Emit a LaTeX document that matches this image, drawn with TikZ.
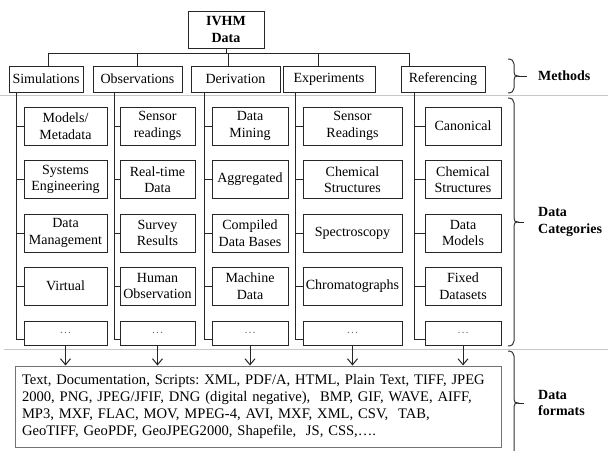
\documentclass[tikz,border=0pt]{standalone}
\usepackage{fontspec}
\setmainfont{Liberation Serif}
\usetikzlibrary{arrows.meta,calc}
\begin{document}
\frenchspacing
\begin{tikzpicture}[x=1pt,y=-1pt,
  every node/.style={font=\fontsize{14}{16.5}\selectfont},
  box/.style={draw=black!85, line width=1pt, align=center, inner sep=0pt, minimum height=38pt},
  mbox/.style={box, minimum height=26pt},
  dbox/.style={box, minimum height=24pt},
  ln/.style={draw=black!85, line width=1pt},
  bline/.style={draw=black!80, line width=1pt},
  sepline/.style={draw=black!22, line width=1pt},
  lab/.style={font=\fontsize{14}{16.5}\selectfont\bfseries, align=left, anchor=west, inner sep=0pt},
  arr/.style={ln, -{Straight Barb[length=6pt,width=10pt,line width=1pt]}}]
\useasboundingbox (0,0) rectangle (608,450);
\newcommand{\dotsgray}{\textcolor{black!55}{\fontsize{12}{14}\selectfont …}}
\newcommand{\bracedraw}[3]{%
  \draw[bline] (508,#1) .. controls (512,#1) and (514,#1+2) .. (514,#1+5)
    -- (514,#2-4) .. controls (514,#2-1) and (515,#2) .. (518,#2)
    .. controls (515,#2) and (514,#2+1) .. (514,#2+4)
    -- (514,#3-5) .. controls (514,#3-2) and (512,#3) .. (508,#3);}

% top
\node[box, font=\fontsize{14}{17}\selectfont\bfseries, minimum width=76pt, minimum height=37pt] (ivhm) at (226,29.5) {IVHM\\Data};

% methods
\node[mbox, minimum width=74pt] (sim) at (46,79) {Simulations};
\node[mbox, minimum width=89pt] (obs) at (137.5,79) {Observations};
\node[mbox, minimum width=89pt] (der) at (235.5,79) {Derivation};
\node[mbox, minimum width=92pt] (exp) at (329,79) {Experiments};
\node[mbox, minimum width=84pt] (ref) at (443,79) {Referencing};

% bus
\coordinate (busL) at (48,53);
\coordinate (busR) at (409,53);
\coordinate (tObs) at (137,53);
\coordinate (tDer) at (228,53);
\coordinate (tExp) at (318,53);
\draw[ln] (busL |- sim.north) -- (busL) -- (busR) -- (busR |- ref.north);
\draw[ln] (tObs) -- (tObs |- obs.north);
\draw[ln] (tDer) -- (tDer |- der.north);
\draw[ln] (tExp) -- (tExp |- exp.north);
\draw[ln] (ivhm.south) -- (ivhm.south |- busL);

% separators
\coordinate (g1l) at (0,95);   \coordinate (g1r) at (608,95);
\coordinate (g2l) at (4,349);  \coordinate (g2r) at (608,349);
\draw[sepline] (g1l) -- (g1r);
\draw[sepline] (g2l) -- (g2r);

% column 1
\node[box, minimum width=83pt] (c11) at (65.5,126) {Models/\\Metadata};
\node[box, minimum width=83pt] (c12) at (65.5,179.5) {Systems\\Engineering};
\node[box, minimum width=83pt] (c13) at (65.5,233) {Data\\Management};
\node[box, minimum width=83pt] (c14) at (65.5,286) {Virtual};
\node[dbox, minimum width=83pt] (c15) at (65.5,333) {\dotsgray};
% column 2
\node[box, minimum width=75pt] (c21) at (157.5,126) {Sensor\\readings};
\node[box, minimum width=75pt] (c22) at (157.5,179.5) {Real-time\\Data};
\node[box, minimum width=75pt] (c23) at (157.5,233) {Survey\\Results};
\node[box, minimum width=75pt] (c24) at (157.5,286) {Human\\Observation};
\node[dbox, minimum width=75pt] (c25) at (157.5,333) {\dotsgray};
% column 3
\node[box, minimum width=76pt] (c31) at (250,126) {Data\\Mining};
\node[box, minimum width=76pt] (c32) at (250,179.5) {Aggregated};
\node[box, minimum width=76pt] (c33) at (250,233) {Compiled\\Data Bases};
\node[box, minimum width=76pt] (c34) at (250,286) {Machine\\Data};
\node[dbox, minimum width=76pt] (c35) at (250,333) {\dotsgray};
% column 4
\node[box, minimum width=99pt] (c41) at (352.5,126) {Sensor\\Readings};
\node[box, minimum width=99pt] (c42) at (352.5,179.5) {Chemical\\Structures};
\node[box, minimum width=99pt] (c43) at (352.5,233) {Spectroscopy};
\node[box, minimum width=99pt] (c44) at (352.5,286) {Chromatographs};
\node[dbox, minimum width=99pt] (c45) at (352.5,333) {\dotsgray};
% column 5
\node[box, minimum width=76pt] (c51) at (463,126) {Canonical};
\node[box, minimum width=76pt] (c52) at (463,179.5) {Chemical\\Structures};
\node[box, minimum width=76pt] (c53) at (463,233) {Data\\Models};
\node[box, minimum width=76pt] (c54) at (463,286) {Fixed\\Datasets};
\node[dbox, minimum width=76pt] (c55) at (463,333) {\dotsgray};

% spines
\coordinate (sp1) at (16,92);
\coordinate (sp2) at (114,92);
\coordinate (sp3) at (204,92);
\coordinate (sp4) at (295,92);
\coordinate (sp5) at (414,92);
\foreach \c in {1,...,5}{
  \draw[ln] (sp\c) |- ([yshift=-6pt]c\c5.west);
  \foreach \r in {1,...,4}{
    \draw[ln] (c\c\r.west -| sp\c) -- (c\c\r.west);
  }
}

% formats box
\node[draw=black!55, line width=1pt, minimum width=486pt, minimum height=81pt,
      text width=472pt, inner xsep=7pt, inner ysep=0pt, align=left,
      font=\fontsize{14.6}{17}\selectfont] (fmt) at (258,406.5)
{Text, Documentation, Scripts: XML, PDF/A, HTML, Plain Text, TIFF, JPEG\\
2000, PNG, JPEG/JFIF, DNG (digital negative),\ \ BMP, GIF, WAVE, AIFF,\\
MP3, MXF, FLAC, MOV, MPEG-4, AVI, MXF, XML, CSV,\ \ TAB,\\
GeoTIFF, GeoPDF, GeoJPEG2000, Shapefile,\ \ JS, CSS,….};

% arrows
\foreach \c in {1,...,5}{
  \draw[arr] (c\c5.south) -- (c\c5.south |- fmt.north);
}

% braces
\bracedraw{59}{76}{93}
\bracedraw{98}{222}{346}
\bracedraw{351}{403}{460}
\coordinate (mtip) at (518,76);
\coordinate (mend) at (527,76);
\coordinate (ctip) at (518,222);
\coordinate (cend) at (524,222);
\coordinate (ftip) at (518,403);
\coordinate (fend) at (524,403);
\draw[ln] (mtip) -- (mend);
\draw[ln] (ctip) -- (cend);
\draw[ln] (ftip) -- (fend);
\node[lab] (lm) at (538,76) {Methods};
\node[lab] (lc) at (538,222) {Data\\Categories};
\node[lab] (lf) at (538,403) {Data\\formats};
\end{tikzpicture}
\end{document}
